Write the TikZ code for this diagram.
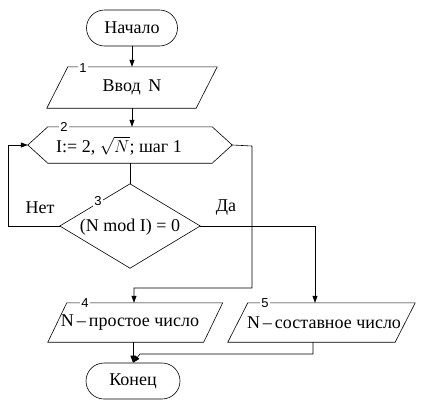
\documentclass[tikz,border=0pt]{standalone}
\usepackage{fontspec}
\setmainfont{Liberation Serif}
\newfontfamily\numfont{Liberation Sans}
\usetikzlibrary{shapes.misc,calc,arrows.meta}
\begin{document}
\begin{tikzpicture}[x=1pt,y=-1pt,
  every node/.style={font=\fontsize{18}{21}\selectfont},
  term/.style={draw, rounded rectangle, line width=0.6pt, inner sep=0pt},
  box/.style={inner sep=0pt},
  outline/.style={draw, line width=0.6pt, line join=miter},
  conn/.style={line width=0.6pt},
  arr/.style={conn, -{Triangle[length=7pt,width=5pt]}},
  num/.style={fill=white, inner sep=1pt, font=\numfont\fontsize{13}{14}\selectfont},
  lbl/.style={inner sep=0pt}]
\useasboundingbox (0,0) rectangle (423,413);
% blocks
\node[term, minimum width=91pt, minimum height=36pt] (start) at (132,28) {Начало};
\node[box, minimum width=149pt, minimum height=41pt] (b1) at (132,87.5) {Ввод\, N};
\draw[outline] ($(b1.north west)+(10.5,0)$) -- ($(b1.north east)+(10.5,0)$) -- ($(b1.south east)+(-10.5,0)$) -- ($(b1.south west)+(-10.5,0)$) -- cycle;
\node[box, minimum width=204pt, minimum height=36pt] (b2) at (130,145) {};
\draw[outline] (b2.west) -- ($(b2.north west)+(20,0)$) -- ($(b2.north east)+(-20,0)$) -- (b2.east) -- ($(b2.south east)+(-20,0)$) -- ($(b2.south west)+(20,0)$) -- cycle;
\node[lbl] (t2) at (119,146) {I:= 2, $\sqrt{N}$; шаг 1};
\node[box, minimum width=140pt, minimum height=84pt] (b3) at (130,226) {};
\draw[outline] (b3.north) -- (b3.east) -- (b3.south) -- (b3.west) -- cycle;
\node[lbl] (t3) at (130,227) {(N mod I) = 0};
\node[box, minimum width=155.5pt, minimum height=39pt] (b4) at (135.25,322.5) {};
\draw[outline] ($(b4.north west)+(9.5,0)$) -- ($(b4.north east)+(9.5,0)$) -- ($(b4.south east)+(-9.5,0)$) -- ($(b4.south west)+(-9.5,0)$) -- cycle;
\node[lbl] (t4) at (130,322.5) {N\,–\,простое число};
\node[box, minimum width=167pt, minimum height=39pt] (b5) at (321.5,322.5) {};
\draw[outline] ($(b5.north west)+(10,0)$) -- ($(b5.north east)+(10,0)$) -- ($(b5.south east)+(-10,0)$) -- ($(b5.south west)+(-10,0)$) -- cycle;
\node[lbl] (t5) at (324,322.5) {N\,–\,составное число};
\node[term, minimum width=94pt, minimum height=36pt] (end) at (133,381) {Конец};
% numbers
\node[num] (n1) at (83,68) {1};
\node[num] (n2) at (64,127) {2};
\node[num] (n3) at (98,201) {3};
\node[num] (n4) at (85,303) {4};
\node[num] (n5) at (265,303) {5};
% labels
\node[lbl] (no) at (40,208) {Нет};
\node[lbl] (yes) at (226,208) {Да};
% connectors
\coordinate (c1) at (8,226);
\coordinate (c2) at (252,146);
\coordinate (c3) at (252,288);
\coordinate (c4) at (134,288);
\coordinate (c5) at (315,226);
\coordinate (c6) at (313,354);
\coordinate (c7) at (140,354);
\draw[arr] (start.south) -- (start.south |- b1.north);
\draw[arr] (b1.south) -- (b1.south |- b2.north);
\draw[conn] (b2.south) -- (b3.north);
\draw[arr] (b3.west) -- (c1) |- (b2.west);
\draw[arr] (b2.east) -- (c2) -- (c3) -- (c4) -- (c4 |- b4.north);
\draw[arr] (b3.east) -- (c5) -- (c5 |- b5.north);
\draw[arr] (b4.south -| end.north) -- (end.north);
\draw[arr] (c6 |- b5.south) -- (c6) -- (c7) -- (end.north);
\end{tikzpicture}
\end{document}
